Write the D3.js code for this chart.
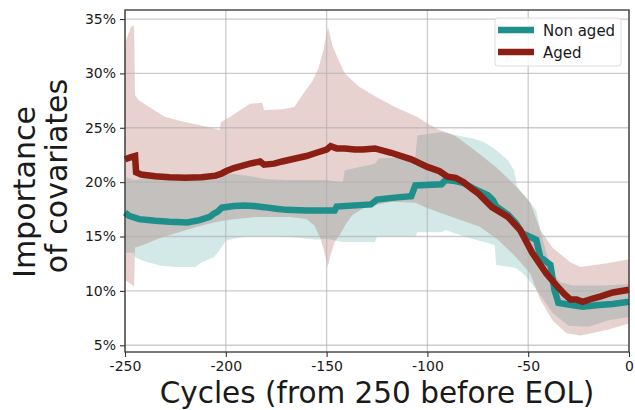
<!doctype html>
<html>
<head>
    <script src="https://d3js.org/d3.v7.min.js"></script>
    <style>
        body { margin: 0; background: #fff; }
        text { font-family: "DejaVu Sans", sans-serif; fill: #1a1a1a; }
    </style>
</head>
<body>
    <svg width="635" height="410"></svg>

    <script>
        // [cycle, importance %]
        var nonAgedMean = [[-250,17.2],[-248,16.9],[-243,16.6],[-235,16.45],[-228,16.36],[-219,16.3],[-213,16.5],[-208,16.8],[-206,17.1],[-204,17.3],[-202,17.65],[-196,17.8],[-191,17.85],[-186,17.8],[-181,17.7],[-175,17.55],[-170,17.45],[-160,17.4],[-146,17.4],[-145,17.75],[-128,17.95],[-125,18.4],[-115,18.6],[-108,18.7],[-106,19.7],[-93,19.8],[-91,20.2],[-86,20.1],[-82,19.9],[-77,19.4],[-70,18.8],[-67.5,18.35],[-66,17.8],[-60,17.0],[-56,16.2],[-53,15.3],[-46,14.7],[-44,13.1],[-39,12.4],[-37,10.1],[-35,8.9],[-30,8.75],[-23,8.55],[-15,8.7],[-8,8.8],[0,9.0]];
        var nonAgedUpper = [[-250,20.5],[-247,20.3],[-245,20.2],[-240,20.4],[-230,20.6],[-220,20.7],[-213,20.75],[-205,20.7],[-199,20.8],[-190,20.6],[-180,20.3],[-170,20.2],[-150,20.2],[-142,20.0],[-141,21.1],[-126,21.7],[-124,22.2],[-106,22.3],[-105,24.3],[-93,24.6],[-85,24.3],[-77,24.0],[-72,23.7],[-66,22.95],[-60,22.0],[-57,21.1],[-55.5,19.6],[-50,18.4],[-46,17.4],[-44,15.6],[-41,13.5],[-38,11.6],[-34,10.8],[-28,10.5],[-15,10.5],[0,10.6]];
        var nonAgedLower = [[-250,13.5],[-245.5,13.5],[-245,13.1],[-240,12.7],[-232,12.3],[-225,12.2],[-215,12.2],[-212,12.6],[-206,13.1],[-203,13.75],[-200,14.6],[-196,14.8],[-190,15.0],[-175,15.0],[-165,14.9],[-155,14.7],[-150,14.8],[-142,14.5],[-126,14.5],[-125,15.0],[-106,15.0],[-105,15.4],[-93,15.4],[-91,15.6],[-85,15.2],[-78,14.8],[-70,14.4],[-66.5,14.2],[-66,12.4],[-56,12.1],[-52,11.5],[-48,10.6],[-44,9.6],[-38,8.0],[-30,6.8],[-20,6.7],[-10,7.3],[0,7.6]];

        var agedMean = [[-250,22.1],[-247,22.3],[-245,22.4],[-244.5,20.9],[-242,20.7],[-235,20.55],[-228,20.45],[-220,20.4],[-212,20.45],[-205,20.6],[-202,20.8],[-200,21.0],[-196,21.3],[-188,21.7],[-183,21.9],[-181,21.6],[-176,21.7],[-172,21.9],[-165,22.2],[-160,22.4],[-155,22.7],[-150,23.0],[-148,23.3],[-145,23.1],[-141,23.1],[-136,23.0],[-132,23.0],[-126,23.1],[-118,22.7],[-108,22.1],[-100,21.4],[-94,21.0],[-90,20.5],[-86,20.4],[-82,20.0],[-78,19.4],[-75,19.0],[-68,17.7],[-60,16.8],[-54,15.6],[-48,13.5],[-41,11.6],[-36,10.5],[-32,9.7],[-29,9.2],[-26,9.2],[-23,9.0],[-18,9.3],[-14,9.5],[-8,9.85],[0,10.1]];
        var agedUpper = [[-250,32.8],[-247,34.3],[-245.5,34.4],[-245,28.0],[-243,27.5],[-238,26.9],[-230,26.0],[-220,25.5],[-213,25.25],[-203,24.8],[-202.5,25.5],[-198,26.0],[-188,27.2],[-182,27.3],[-181,26.6],[-172,26.7],[-166,26.9],[-161,28.3],[-157,29.3],[-154,30.5],[-151.5,32.2],[-149.3,34.3],[-147,32.5],[-144,31.2],[-141,30.0],[-134,28.8],[-126,27.9],[-116,26.9],[-105,26.0],[-100,25.4],[-94,24.8],[-88,24.4],[-85,24.1],[-77,23.0],[-66,21.4],[-56,19.6],[-49,18.1],[-44,15.6],[-38,14.0],[-29,12.6],[-24,12.2],[-11,12.55],[0,12.9]];
        var agedLower = [[-250,11.0],[-247,10.6],[-245.5,10.4],[-245,14.0],[-240,14.3],[-232,14.9],[-225,15.3],[-218,15.7],[-210,16.1],[-203,16.4],[-195,16.6],[-185,16.8],[-168,16.8],[-160,16.6],[-156,16.0],[-153,14.8],[-151,13.5],[-149.5,12.2],[-148,13.3],[-146,14.5],[-143,15.3],[-140,16.3],[-137,17.0],[-131,17.7],[-118,18.2],[-106,18.1],[-101,17.7],[-93,17.15],[-81,16.35],[-74,15.9],[-65,14.7],[-56,13.1],[-49,11.6],[-44,9.2],[-38,7.3],[-31,6.1],[-24,5.9],[-11,6.4],[0,7.0]];

        var xTicks = [-250, -200, -150, -100, -50, 0];
        var yTicks = [5, 10, 15, 20, 25, 30, 35];

        var teal = "#1f8f8c", red = "#8c1f14";

        var svg = d3.select("svg"),
            margin = {left: 125, right: 6, top: 10, bottom: 58},
            width = 635 - margin.left - margin.right,
            height = 410 - margin.top - margin.bottom;

        var x = d3.scaleLinear().domain([-250, 0]).range([0, width]);
        var y = d3.scaleLinear().domain([4.38, 35.83]).range([height, 0]);

        var g = svg.append("g").attr("transform", "translate(" + margin.left + "," + margin.top + ")");

        // band from upper and lower lists
        function band(upper, lower) {
            var pts = upper.map(d => [x(d[0]), y(d[1])]);
            lower.slice().reverse().forEach(d => pts.push([x(d[0]), y(d[1])]));
            return "M" + pts.join("L") + "Z";
        }

        g.append("path").attr("d", band(nonAgedUpper, nonAgedLower))
            .attr("fill", teal).attr("fill-opacity", 0.2);
        g.append("path").attr("d", band(agedUpper, agedLower))
            .attr("fill", red).attr("fill-opacity", 0.2);

        // grid
        g.append("g").selectAll("line").data(xTicks).enter().append("line")
            .attr("x1", d => x(d)).attr("x2", d => x(d))
            .attr("y1", 0).attr("y2", height)
            .attr("stroke", "#b0b0b0").attr("stroke-opacity", 0.65).attr("stroke-width", 1.3);
        g.append("g").selectAll("line").data(yTicks).enter().append("line")
            .attr("x1", 0).attr("x2", width)
            .attr("y1", d => y(d)).attr("y2", d => y(d))
            .attr("stroke", "#b0b0b0").attr("stroke-opacity", 0.65).attr("stroke-width", 1.3);

        var line = d3.line().x(d => x(d[0])).y(d => y(d[1]));

        g.append("path").datum(nonAgedMean).attr("d", line)
            .attr("fill", "none").attr("stroke", teal).attr("stroke-width", 6.5);
        g.append("path").datum(agedMean).attr("d", line)
            .attr("fill", "none").attr("stroke", red).attr("stroke-width", 6.5);

        // axes
        var xAxis = g.append("g").attr("transform", "translate(0," + height + ")")
            .call(d3.axisBottom(x).tickValues(xTicks).tickFormat(d => String(d)).tickSizeOuter(0).tickSize(5).tickPadding(4));
        var yAxis = g.append("g")
            .call(d3.axisLeft(y).tickValues(yTicks).tickFormat(d => d + "%").tickSizeOuter(0).tickSize(5).tickPadding(4));
        [xAxis, yAxis].forEach(a => {
            a.select(".domain").remove();
            a.selectAll("line").attr("stroke", "#333").attr("stroke-width", 1.1);
            a.selectAll("text").style("font-size", "14px").attr("fill", "#1a1a1a");
        });

        g.append("rect").attr("width", width).attr("height", height)
            .attr("fill", "none").attr("stroke", "#333").attr("stroke-width", 1.3);

        // axis labels
        svg.append("text")
            .attr("x", 377).attr("y", 402.5)
            .attr("text-anchor", "middle").style("font-size", "29.5px")
            .text("Cycles (from 250 before EOL)");

        svg.append("text")
            .attr("transform", "translate(35,192) rotate(-90)")
            .attr("text-anchor", "middle").style("font-size", "30px")
            .text("Importance");
        svg.append("text")
            .attr("transform", "translate(67,176) rotate(-90)")
            .attr("text-anchor", "middle").style("font-size", "30px")
            .text("of covariates");

        // legend
        var legend = svg.append("g").attr("transform", "translate(495,18)");
        legend.append("rect").attr("width", 126).attr("height", 48).attr("rx", 3)
            .attr("fill", "#fff").attr("fill-opacity", 0.8).attr("stroke", "#ddd");
        var items = [{name: "Non aged", color: teal}, {name: "Aged", color: red}];
        var li = legend.selectAll(".item").data(items).enter().append("g")
            .attr("transform", (d, i) => "translate(0," + (12 + i * 22) + ")");
        li.append("line").attr("x1", 3).attr("x2", 39)
            .attr("stroke", d => d.color).attr("stroke-width", 6.5);
        li.append("text").attr("x", 48).attr("y", 5.5).style("font-size", "15px").text(d => d.name);
    </script>
</body>
</html>
